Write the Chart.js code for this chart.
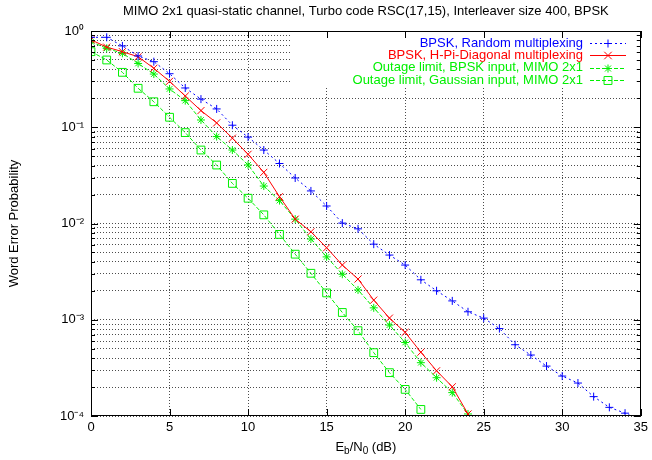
<!DOCTYPE html>
<html>
<head>
<meta charset="utf-8">
<script src="https://cdn.jsdelivr.net/npm/chart.js@4/dist/chart.umd.min.js"></script>
<style>
  html, body { margin: 0; padding: 0; background: #fff; }
  #wrap { width: 652px; height: 460px; }
</style>
</head>
<body>
<div id="wrap"><canvas id="chart" width="652" height="460"></canvas></div>
<script>
// Eb/N0 (dB) sample points of each curve
const snrRandom = [0,1,2,3,4,5,6,7,8,9,10,11,12,13,14,15,16,17,18,19,20,21,22,23,24,25,26,27,28,29,30,31,32,33,34,35];
const snrDiag = [0,1,2,3,4,5,6,7,8,9,10,11,12,13,14,15,16,17,18,19,20,21,22,23,24];
const snrOutBpsk = [0,1,2,3,4,5,6,7,8,9,10,11,12,13,14,15,16,17,18,19,20,21,22,23,24];
const snrOutGauss = [0,1,2,3,4,5,6,7,8,9,10,11,12,13,14,15,16,17,18,19,20,21];

// word error probability
const werRandom = [0.86,0.86,0.70,0.55,0.48,0.36,0.256,0.196,0.155,0.105,0.079,0.058,0.042,0.0297,0.0218,0.0152,0.0101,0.0088,0.0061,0.0047,0.0037,0.0026,0.0020,0.00157,0.00121,0.00104,0.00081,0.00055,0.00043,0.00033,0.00026,0.00022,0.000159,0.000123,0.000107,0.00009];
const werDiag = [0.81,0.68,0.61,0.54,0.41,0.30,0.211,0.149,0.111,0.077,0.0524,0.034,0.019,0.0111,0.0082,0.0056,0.0037,0.00265,0.0016,0.00104,0.00074,0.00046,0.000295,0.000201,0.000105];
const werOutBpsk = [0.774,0.66,0.586,0.46,0.357,0.25,0.189,0.119,0.080,0.058,0.0406,0.0245,0.0173,0.0111,0.0069,0.0045,0.00297,0.00204,0.00133,0.00088,0.00058,0.000358,0.00025,0.000175,0.000105];
const werOutGauss = [0.61,0.50,0.372,0.254,0.184,0.127,0.088,0.058,0.0405,0.0261,0.0183,0.0123,0.0077,0.0048,0.00304,0.0019,0.00119,0.00077,0.000455,0.000282,0.000189,0.000117];

const seriesNames = [
  'BPSK, Random multiplexing',
  'BPSK, H-Pi-Diagonal multiplexing',
  'Outage limit, BPSK input, MIMO 2x1',
  'Outage limit, Gaussian input, MIMO 2x1'
];

// log axis: decades and mantissas used for grid lines
const yDecades = [-4, -3, -2, -1];
const yMantissas = [1, 2, 3, 4, 5, 6, 7, 8, 9];
const xTickStep = 5;

const FONT = '"Liberation Sans", Arial, sans-serif';
const FS = 13;
const SUP = { '0': '\u2070', '1': '\u00b9', '2': '\u00b2', '3': '\u00b3', '4': '\u2074', '-': '\u207b' };

function toPoints(xs, ys) {
  return xs.map((x, i) => ({ x: x, y: ys[i] }));
}

function yTickValues() {
  const vals = [];
  yDecades.forEach(d => yMantissas.forEach(m => vals.push(parseFloat((m * Math.pow(10, d)).toPrecision(3)))));
  vals.push(1);
  return vals;
}

function isPow10(v) {
  const l = Math.log10(v);
  return Math.abs(l - Math.round(l)) < 1e-9;
}

function powLabel(v) {
  const e = String(Math.round(Math.log10(v)));
  return '10' + e.split('').map(c => SUP[c]).join('');
}

// marker shapes like gnuplot's point types
function drawMarker(ctx, style, x, y, r) {
  ctx.beginPath();
  if (style === 'cross' || style === 'star') {
    ctx.moveTo(x - r, y); ctx.lineTo(x + r, y);
    ctx.moveTo(x, y - r); ctx.lineTo(x, y + r);
  }
  if (style === 'crossRot' || style === 'star') {
    const o = r * 0.75;
    ctx.moveTo(x - o, y - o); ctx.lineTo(x + o, y + o);
    ctx.moveTo(x - o, y + o); ctx.lineTo(x + o, y - o);
  }
  if (style === 'rect') {
    const h = r * 0.72;
    ctx.rect(x - h, y - h, 2 * h, 2 * h);
  }
  ctx.stroke();
}

const lineStyles = [
  { color: '#0000ff', dash: [2, 3], marker: 'cross', radius: 4 },
  { color: '#ff0000', dash: [], marker: 'crossRot', radius: 5 },
  { color: '#00f000', dash: [4, 2], marker: 'star', radius: 4 },
  { color: '#00f000', dash: [4, 2], marker: 'rect', radius: 5.5 }
];

// white key box in the top right with text right-aligned and sample on the right
const keyPlugin = {
  id: 'key',
  beforeDatasetsDraw(chart) {
    const ctx = chart.ctx, a = chart.chartArea;
    ctx.save();
    ctx.fillStyle = '#fff';
    ctx.fillRect(292, 34, a.right - 292 - 1, 53);
    ctx.restore();
  },
  afterDatasetsDraw(chart) {
    const ctx = chart.ctx;
    ctx.save();
    ctx.font = FS + 'px ' + FONT;
    ctx.textAlign = 'right';
    ctx.textBaseline = 'middle';
    seriesNames.forEach((name, i) => {
      const st = lineStyles[i];
      const y = 43 + i * 12.4;
      ctx.fillStyle = st.color;
      ctx.fillText(name, 583, y);
      ctx.strokeStyle = st.color;
      ctx.lineWidth = 1;
      ctx.setLineDash(st.dash);
      ctx.beginPath();
      ctx.moveTo(590, Math.round(y) + 0.5);
      ctx.lineTo(626, Math.round(y) + 0.5);
      ctx.stroke();
      ctx.setLineDash([]);
      drawMarker(ctx, st.marker, 608, Math.round(y) + 0.5, st.radius);
    });
    ctx.restore();
  }
};

// inward ticks, full frame and the x axis title with subscripts
const framePlugin = {
  id: 'frame',
  afterDraw(chart) {
    const ctx = chart.ctx, a = chart.chartArea;
    const xs = chart.scales.x, ys = chart.scales.y;
    ctx.save();
    ctx.strokeStyle = '#000';
    ctx.lineWidth = 1;
    ctx.beginPath();
    ys.ticks.forEach(t => {
      const py = Math.round(ys.getPixelForValue(t.value)) + 0.5;
      const len = isPow10(t.value) ? 7 : 4;
      ctx.moveTo(a.left, py); ctx.lineTo(a.left + len, py);
      ctx.moveTo(a.right, py); ctx.lineTo(a.right - len, py);
    });
    xs.ticks.forEach(t => {
      const px = Math.round(xs.getPixelForValue(t.value)) + 0.5;
      ctx.moveTo(px, a.bottom); ctx.lineTo(px, a.bottom - 7);
      ctx.moveTo(px, a.top); ctx.lineTo(px, a.top + 7);
    });
    ctx.stroke();
    ctx.strokeRect(Math.round(a.left) + 0.5, Math.round(a.top) + 0.5,
      Math.round(a.right - a.left) - 1, Math.round(a.bottom - a.top) - 1);

    // E_b/N_0 (dB)
    const parts = [['E', 0], ['b', 1], ['/N', 0], ['0', 1], [' (dB)', 0]];
    const big = FS + 'px ' + FONT, small = '10px ' + FONT;
    let w = 0;
    parts.forEach(p => { ctx.font = p[1] ? small : big; w += ctx.measureText(p[0]).width; });
    let x = (a.left + a.right) / 2 - w / 2;
    const base = 451;
    ctx.fillStyle = '#000';
    ctx.textAlign = 'left';
    ctx.textBaseline = 'alphabetic';
    parts.forEach(p => {
      ctx.font = p[1] ? small : big;
      ctx.fillText(p[0], x, base + (p[1] ? 3 : 0));
      x += ctx.measureText(p[0]).width;
    });
    ctx.restore();
  }
};

const seriesX = [snrRandom, snrDiag, snrOutBpsk, snrOutGauss];
const seriesY = [werRandom, werDiag, werOutBpsk, werOutGauss];

function getDatasets() {
  return seriesNames.map((name, i) => {
    const st = lineStyles[i];
    return {
      label: name,
      data: toPoints(seriesX[i], seriesY[i]),
      borderColor: st.color,
      backgroundColor: 'rgba(0,0,0,0)',
      borderWidth: 1,
      borderDash: st.dash,
      pointStyle: st.marker,
      pointRadius: st.radius,
      pointBorderWidth: 1,
      pointBorderColor: st.color,
      pointBackgroundColor: 'rgba(0,0,0,0)',
      tension: 0,
      fill: false
    };
  });
}

const chart = new Chart(document.getElementById('chart'), {
  type: 'line',
  data: { datasets: getDatasets() },
  plugins: [keyPlugin, framePlugin],
  options: {
    responsive: false,
    animation: false,
    layout: { padding: { left: 0, right: 9, top: 0, bottom: 0 } },
    plugins: {
      legend: { display: false },
      tooltip: { enabled: false },
      title: {
        display: true,
        fullSize: false,
        text: 'MIMO 2x1 quasi-static channel, Turbo code RSC(17,15), Interleaver size 400, BPSK',
        color: '#000',
        font: { family: FONT, size: FS, weight: 'normal' },
        padding: { top: 4, bottom: 11.4 }
      }
    },
    scales: {
      x: {
        type: 'linear',
        min: 0,
        max: 35,
        afterFit(scale) { scale.height = 44; },
        ticks: {
          stepSize: xTickStep,
          color: '#000',
          padding: 4,
          maxRotation: 0,
          font: { family: FONT, size: FS }
        },
        grid: { color: 'rgba(0,0,0,0.7)', lineWidth: 1, drawTicks: false },
        border: { display: false, dash: [1, 2] }
      },
      y: {
        type: 'logarithmic',
        min: 0.0001,
        max: 1,
        afterFit(scale) { scale.width = 91; },
        afterBuildTicks(scale) {
          scale.ticks = yTickValues().map(v => ({ value: v, major: isPow10(v) }));
        },
        ticks: {
          autoSkip: false,
          color: '#000',
          padding: 7,
          font: { family: FONT, size: FS },
          callback: (v) => isPow10(v) ? powLabel(v) : ''
        },
        grid: { color: 'rgba(0,0,0,0.7)', lineWidth: 1, drawTicks: false },
        border: { display: false, dash: [1, 2] },
        title: {
          display: true,
          text: 'Word Error Probability',
          color: '#000',
          font: { family: FONT, size: FS },
          padding: { top: 7, bottom: 0 }
        }
      }
    }
  }
});
</script>
</body>
</html>
